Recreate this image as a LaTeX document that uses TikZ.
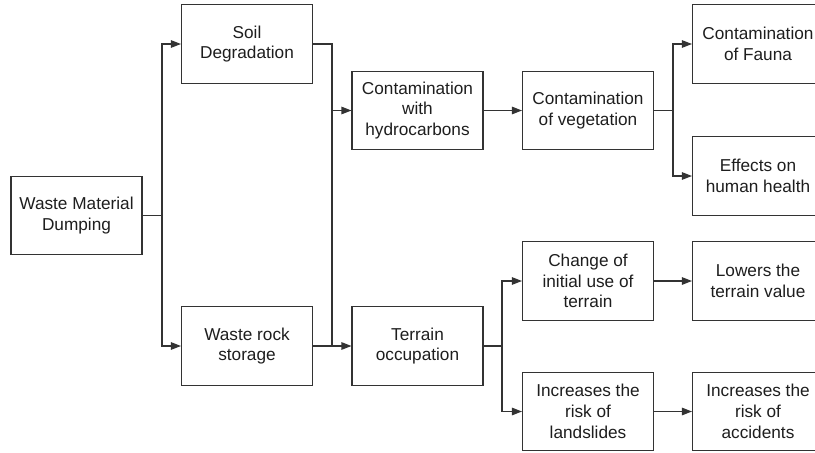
\documentclass[tikz,border=0pt]{standalone}
\usepackage{fontspec}
\setmainfont{Liberation Sans}
\usepackage{xcolor}
\definecolor{flowgray}{RGB}{51,51,51}
\definecolor{flowtext}{RGB}{30,30,30}
\usepackage{tikz}
\usetikzlibrary{arrows.meta, positioning, calc}

\tikzset{
  effectbox/.style={draw=flowgray, line width=0.6pt, fill=white, minimum width=2.62cm,
    minimum height=1.57cm, inner sep=2pt, align=center, text=flowtext,
    font=\fontsize{9.8}{11.8}\selectfont},
  link/.style={draw=flowgray, line width=0.6pt},
  linkarrow/.style={link, -{Triangle[length=2mm, width=1.5mm]}}
}

\begin{document}
\begin{tikzpicture}

\useasboundingbox (0,0) rectangle (16.3,-9.06);

% === Source and first impacts ===
\node[effectbox] (dump) at (1.53,-4.31) {Waste Material\\Dumping};
\node[effectbox] (soil) at (4.94,-0.88) {Soil\\Degradation};
\node[effectbox] (rock) at (4.94,-6.92) {Waste rock\\storage};

% === Second column ===
\node[effectbox] (hydro) at (8.35,-2.21) {Contamination\\with\\hydrocarbons};
\node[effectbox] (terrain) at (8.35,-6.92) {Terrain\\occupation};

% === Upper branch ===
\node[effectbox] (veg) at (11.76,-2.21) {Contamination\\of vegetation};
\node[effectbox] (fauna) at (15.16,-0.88) {Contamination\\of Fauna};
\node[effectbox] (health) at (15.16,-3.52) {Effects on\\human health};

% === Lower branch ===
\node[effectbox] (change) at (11.76,-5.62) {Change of\\initial use of\\terrain};
\node[effectbox] (lowers) at (15.16,-5.62) {Lowers the\\terrain value};
\node[effectbox] (slide) at (11.76,-8.23) {Increases the\\risk of\\landslides};
\node[effectbox] (accid) at (15.16,-8.23) {Increases the\\risk of\\accidents};

% === Junction points ===
\coordinate (dumpsplit) at (3.24,-4.31);
\coordinate (merge) at (6.64,-6.92);
\coordinate (vegsplit) at (13.46,-2.21);
\coordinate (terrsplit) at (10.04,-6.92);

% === Connectors ===
\draw[link] (dump.east) -- (dumpsplit);
\draw[linkarrow] (dumpsplit) |- (soil.west);
\draw[linkarrow] (dumpsplit) |- (rock.west);

\draw[link] (soil.east) -| (merge);
\draw[linkarrow] (merge |- hydro.west) -- (hydro.west);
\draw[linkarrow] (rock.east) -- (terrain.west);

\draw[linkarrow] (hydro.east) -- (veg.west);
\draw[link] (veg.east) -- (vegsplit);
\draw[linkarrow] (vegsplit) |- (fauna.west);
\draw[linkarrow] (vegsplit) |- (health.west);

\draw[link] (terrain.east) -- (terrsplit);
\draw[linkarrow] (terrsplit) |- (change.west);
\draw[linkarrow] (terrsplit) |- (slide.west);
\draw[linkarrow] (change.east) -- (lowers.west);
\draw[linkarrow] (slide.east) -- (accid.west);

\end{tikzpicture}
\end{document}
